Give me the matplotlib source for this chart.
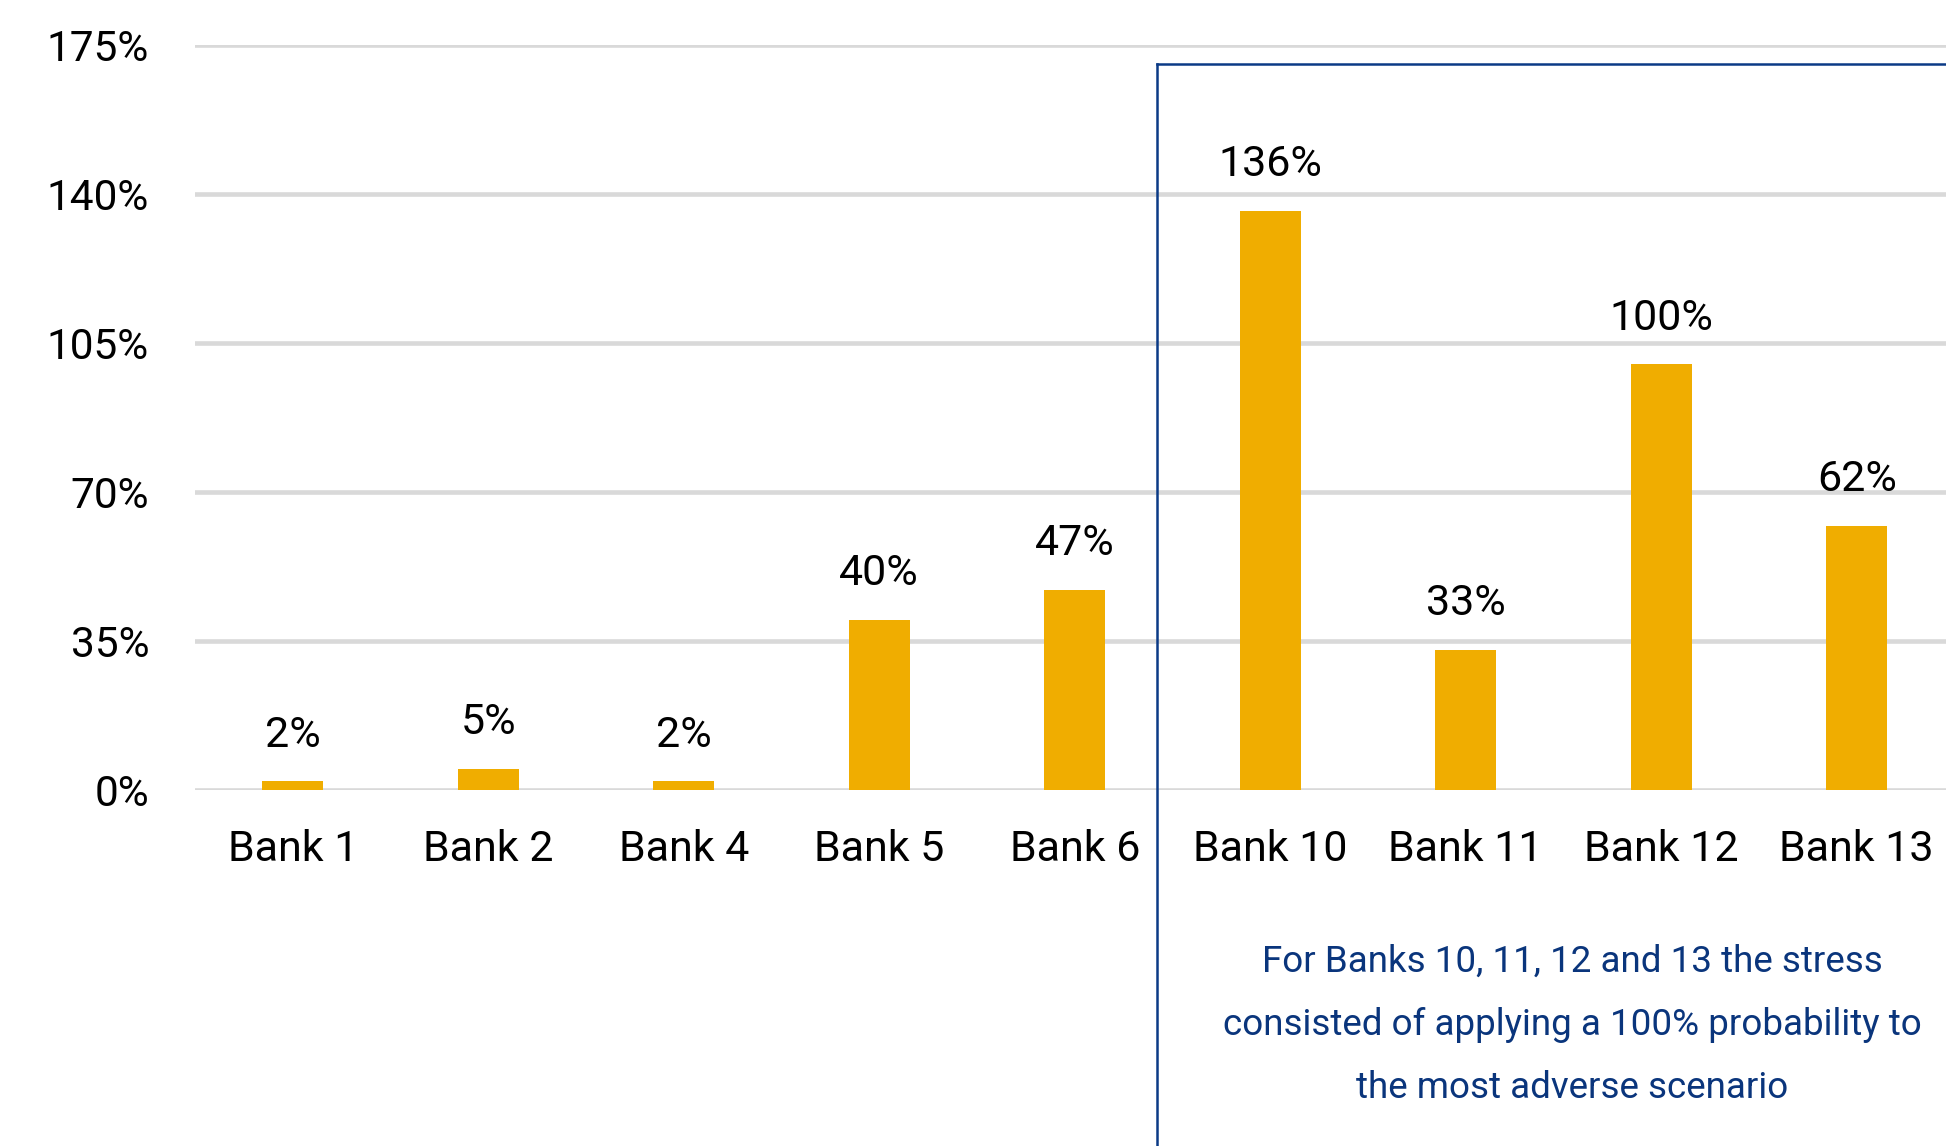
import matplotlib
matplotlib.use("Agg")
import matplotlib.pyplot as plt
from matplotlib.lines import Line2D

banks = ["Bank 1", "Bank 2", "Bank 4", "Bank 5", "Bank 6",
         "Bank 10", "Bank 11", "Bank 12", "Bank 13"]
values = [2, 5, 2, 40, 47, 136, 33, 100, 62]
yticks = [0, 35, 70, 105, 140, 175]
note = ("For Banks 10, 11, 12 and 13 the stress\n"
        "consisted of applying a 100% probability to\n"
        "the most adverse scenario")

main_font = ["Roboto", "DejaVu Sans"]

BAR = "#F0AD00"
GRID = "#D9D9D9"
NAVY = "#0B3A86"
TEXT_NAVY = "#0A357C"

W, H = 1946, 1146
fig = plt.figure(figsize=(W / 100, H / 100), dpi=100)
ax = fig.add_axes([195 / W, (H - 790) / H, 1759.5 / W, 745 / H])

x = range(len(banks))
bars = ax.bar(x, values, width=0.31, color=BAR, zorder=3)
ax.set_xlim(-0.5, len(banks) - 0.5)
ax.set_ylim(0, 175)
ax.set_yticks(yticks)
ax.set_yticklabels([f"{v}%" for v in yticks], fontfamily=main_font, fontsize=30.5)
ax.set_xticks(list(x))
ax.set_xticklabels(banks, fontfamily=main_font, fontsize=31)
ax.tick_params(axis="y", length=0, pad=33)
ax.tick_params(axis="x", length=0, pad=28)
ax.grid(axis="y", color=GRID, linewidth=3.3, zorder=0)
for s in ax.spines.values():
    s.set_visible(False)

for b, v in zip(bars, values):
    ax.annotate(f"{v}%", (b.get_x() + b.get_width() / 2, v),
                xytext=(0, 18.5), textcoords="offset points",
                ha="center", va="bottom", fontsize=31, fontfamily=main_font)

# framed region for the banks with the alternative stress
bx, by = 1157 / W, (H - 64) / H
fig.add_artist(Line2D([bx, bx], [0, by], color=NAVY, linewidth=1.8, transform=fig.transFigure))
fig.add_artist(Line2D([bx, 1.0], [by, by], color=NAVY, linewidth=1.8, transform=fig.transFigure))

fig.text(1572 / W, (H - 1025) / H, note, ha="center", va="center",
         fontsize=26.5, fontfamily=main_font, color=TEXT_NAVY, linespacing=1.98)

fig.savefig("out.png", dpi=100)
